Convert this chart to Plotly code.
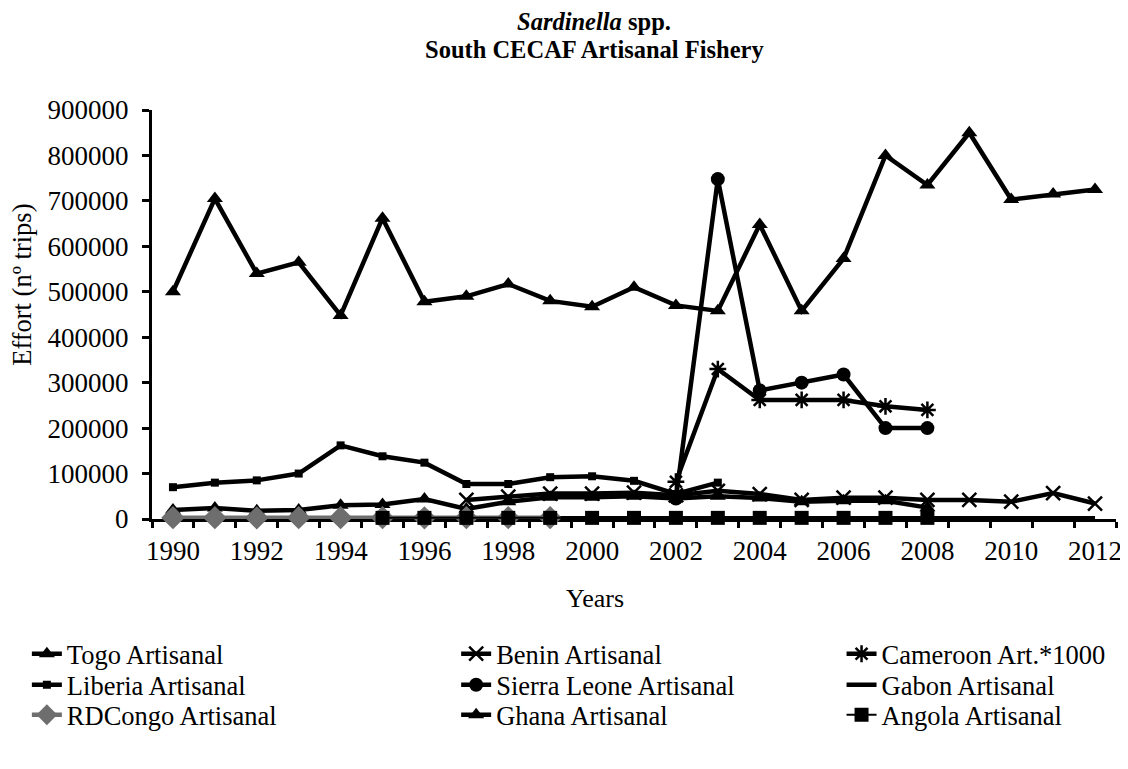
import plotly.graph_objects as go

# values (effort, number of trips)
togo_years = list(range(1990, 2009))
togo = [20000, 24000, 18000, 20000, 30000, 32000, 44000, 22000, 38000, 48000,
        48000, 50000, 45000, 50000, 46000, 38000, 40000, 40000, 25000]

benin_years = list(range(1997, 2013))
benin = [42000, 49000, 56000, 56000, 58000, 52000, 62000, 55000, 42000, 47000,
         47000, 42000, 42000, 38000, 57000, 34000]

cameroon_years = list(range(2002, 2009))
cameroon = [82000, 330000, 262000, 262000, 262000, 248000, 240000]

liberia_years = list(range(1990, 2004))
liberia = [70000, 80000, 85000, 100000, 162000, 138000, 124000, 77000, 77000,
           92000, 94000, 84000, 55000, 80000]

sierra_years = list(range(2002, 2009))
sierra = [45000, 748000, 283000, 300000, 318000, 200000, 200000]

gabon_years = list(range(1990, 2013))
gabon = [1500, 1500, 1400, 1500, 1600, 1600, 1500, 1500, 1400, 1500, 1500, 1600,
         1500, 1500, 1400, 1500, 1500, 1600, 1500, 1500, 1500, 1400, 1500]

rdcongo_years = list(range(1990, 2000))
rdcongo = [3000, 3000, 2500, 3000, 3000, 3000, 2500, 3000, 3000, 3000]

ghana_years = list(range(1990, 2013))
ghana = [500000, 705000, 540000, 565000, 448000, 662000, 478000, 490000, 517000,
         480000, 467000, 510000, 470000, 458000, 648000, 458000, 573000, 800000,
         735000, 850000, 703000, 715000, 725000]

angola_years = list(range(1995, 2009))
angola = [2500, 2500, 2500, 2500, 2500, 2500, 2500, 2500, 2500, 2500, 2500, 2500,
          2500, 2500]

# category-style axis: ticks sit between years, labels every other year
tick_years = list(range(1990, 2014))
tick_pos = [y - 0.5 for y in tick_years]
tick_text = [str(y) if y % 2 == 0 and y <= 2012 else "" for y in tick_years]

FONT = "Liberation Serif"
W = 4.5
XR = [1989.5, 2012.5]

# the page body has an 8px margin, so the figure is 8px smaller each way
fig = go.Figure()

# legend grid (paper coords): 3 columns x 3 rows, one legend per entry
col_x = [-0.1298, 0.3155, 0.7153]
row_y = [-0.2714, -0.3472, -0.4206]
n = [0]


def add(name, x, y, symbol, size, color="black", width=W, mline=0):
    i = n[0]
    lname = "legend" if i == 0 else "legend%d" % (i + 1)
    fig.add_trace(go.Scatter(
        x=x, y=y, name=name, legend=lname, cliponaxis=False, showlegend=True,
        mode="lines+markers" if symbol else "lines",
        line=dict(color=color, width=width),
        marker=dict(symbol=symbol or "circle", size=size, color=color,
                    line=dict(color=color, width=mline)),
    ))
    fig.layout[lname] = dict(
        font=dict(family=FONT, size=26.5, color="black"),
        x=col_x[i % 3], y=row_y[i // 3], xanchor="left", yanchor="top",
        bgcolor="rgba(0,0,0,0)", itemwidth=30)
    n[0] += 1


add("Togo Artisanal", togo_years, togo, "triangle-up", 14)
add("Benin Artisanal", benin_years, benin, "x-thin", 14, mline=2.5)
add("Cameroon Art.*1000", cameroon_years, cameroon, "asterisk", 14, mline=2.5)
add("Liberia Artisanal", liberia_years, liberia, "square", 8)
add("Sierra Leone Artisanal", sierra_years, sierra, "circle", 14)
add("Gabon Artisanal", gabon_years, gabon, None, 0)
add("RDCongo Artisanal", rdcongo_years, rdcongo, "diamond", 18, color="#6e6e6e")
add("Ghana Artisanal", ghana_years, ghana, "triangle-up", 14)
add("Angola Artisanal", angola_years, angola, "square", 14, width=2)

fig.update_layout(
    width=1120, height=761,
    showlegend=True,
    margin=dict(l=144, r=6, t=102, b=250),
    paper_bgcolor="white", plot_bgcolor="white",
    font=dict(family=FONT, size=27, color="black"),
    xaxis=dict(range=XR, tickmode="array", tickvals=tick_pos, ticktext=tick_text,
               ticklabelshift=21,
               ticks="outside", ticklen=6, tickwidth=3, tickcolor="black",
               showline=True, linewidth=3, linecolor="black",
               showgrid=False, zeroline=False, layer="below traces",
               tickfont=dict(size=27)),
    yaxis=dict(range=[0, 900000], dtick=100000, tickformat="d",
               ticks="outside", ticklen=7, tickwidth=3, tickcolor="black",
               showline=True, linewidth=3, linecolor="black", layer="below traces",
               showgrid=False, zeroline=False, tickfont=dict(size=27),
               ticklabelstandoff=8),
    annotations=[
        dict(text="<b><i>Sardinella</i> spp.</b>", xref="paper", yref="paper",
             x=0.4588, y=1.2152, xanchor="center", yanchor="middle",
             showarrow=False, font=dict(family=FONT, size=24.5)),
        dict(text="<b>South CECAF Artisanal Fishery</b>", xref="paper", yref="paper",
             x=0.4588, y=1.1467, xanchor="center", yanchor="middle",
             showarrow=False, font=dict(family=FONT, size=24.5)),
        dict(text="Years", xref="paper", yref="paper",
             x=(598 - 152) / 970, y=(519 - 598) / 409, xanchor="center",
             yanchor="middle", showarrow=False, font=dict(family=FONT, size=26)),
        dict(text="Effort (nº trips)", xref="paper", yref="paper",
             x=(21 - 152) / 970, y=(519 - 285) / 409, textangle=-90,
             xanchor="center", yanchor="middle", borderpad=0,
             showarrow=False, font=dict(family=FONT, size=26.5)),
    ],
)

fig.write_html("out.html")
